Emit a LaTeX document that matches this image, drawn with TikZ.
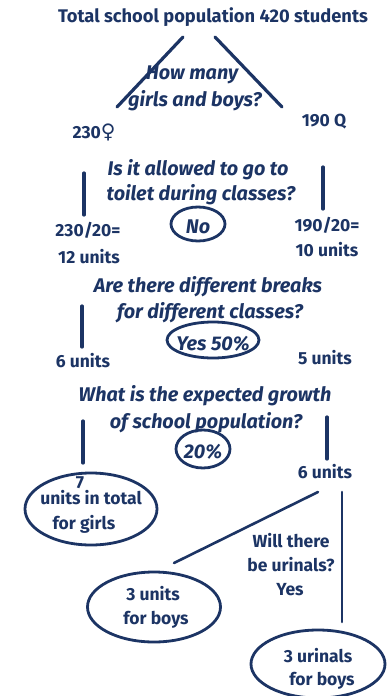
\documentclass[tikz,border=0pt]{standalone}
\usepackage{fontspec}
\setmainfont{Fira Sans}
\newfontfamily\symfont{DejaVu Sans}
\usetikzlibrary{shapes.geometric}
\definecolor{ink}{RGB}{28,52,100}
\tikzset{
  lbl/.style={text=ink, font=\fontsize{17.5}{19}\selectfont\bfseries, inner sep=0pt, anchor=center},
  ttl/.style={lbl, font=\fontsize{18.3}{20}\selectfont\bfseries},
  qst/.style={text=ink, font=\fontsize{19.8}{21}\selectfont\bfseries\itshape, inner sep=0pt, anchor=center},
  stroke/.style={draw=ink, line width=3.2pt, line cap=round},
  oval/.style={draw=ink, line width=2.8pt, ellipse, inner sep=0pt}
}
\begin{document}
\begin{tikzpicture}[x=1pt,y=-1pt]
\useasboundingbox (0,0) rectangle (388,696);
% title
\node[ttl] (title) at (213,17) {Total school population 420 students};
\coordinate (l1a) at (183,37); \coordinate (l1b) at (117,107);
\coordinate (r1a) at (215,37); \coordinate (r1b) at (282,107);
\draw[stroke] (l1a) -- (l1b);
\draw[stroke] (r1a) -- (r1b);
\node[qst] (q1a) at (192,75) {How many};
\node[qst] (q1b) at (195,101) {girls and boys?};
\node[lbl] (girls) at (94,132) {230{\symfont\fontsize{20}{20}\selectfont ♀}};
\node[lbl] (boys) at (324,122) {190 Q};
% level 2
\coordinate (l2a) at (84,173); \coordinate (l2b) at (84,215);
\coordinate (r2a) at (323,167); \coordinate (r2b) at (323,209);
\draw[stroke] (l2a) -- (l2b);
\draw[stroke] (r2a) -- (r2b);
\node[qst] (q2a) at (198,170) {Is it allowed to go to};
\node[qst] (q2b) at (201,195) {toilet during classes?};
\node[oval, minimum width=54, minimum height=34] (no) at (198,224) {};
\node[qst] at ([yshift=-3]no.center) {No};
\node[lbl] (g2a) at (88,230) {230/20=};
\node[lbl] (g2b) at (89,257) {12 units};
\node[lbl] (b2a) at (327,225) {190/20=};
\node[lbl] (b2b) at (327,250) {10 units};
% level 3
\node[qst] (q3a) at (208,287) {Are there different breaks};
\node[qst] (q3b) at (210,313) {for different classes?};
\coordinate (l3a) at (82,306); \coordinate (l3b) at (82,347);
\draw[stroke] (l3a) -- (l3b);
\node[oval, minimum width=92, minimum height=36] (yes) at (213,340) {};
\node[qst] at ([yshift=-4]yes.center) {Yes 50\%};
\node[lbl] (g3) at (83,361) {6 units};
\node[lbl] (b3) at (325,358) {5 units};
% level 4
\node[qst] (q4a) at (205,396) {What is the expected growth};
\node[qst] (q4b) at (206,423) {of school population?};
\coordinate (l4a) at (83,421); \coordinate (l4b) at (83,463);
\coordinate (r4a) at (327,417); \coordinate (r4b) at (327,459);
\draw[stroke] (l4a) -- (l4b);
\draw[stroke] (r4a) -- (r4b);
\node[oval, minimum width=54, minimum height=38] (growth) at (203,449) {};
\node[qst] at ([yshift=-3]growth.center) {20\%};
\node[lbl] (b4) at (325,472) {6 units};
% girls total
\node[oval, minimum width=132, minimum height=72] (girlsTotal) at (91,509) {};
\node[lbl] at (80,483) {7};
\node[lbl] at (91,498) {units in total};
\node[lbl] at (84,524) {for girls};
% boys branch
\coordinate (d1) at (318,492); \coordinate (d2) at (174,563);
\draw[stroke, line width=2.6pt] (d1) -- (d2);
\coordinate (v1) at (342,492); \coordinate (v2) at (342,622);
\draw[stroke, line width=2.6pt] (v1) -- (v2);
\node[lbl] (q5a) at (291,541) {Will there};
\node[lbl] (q5b) at (291,565) {be urinals?};
\node[lbl] (q5c) at (290,590) {Yes};
\node[oval, minimum width=133, minimum height=70] (boysUnits) at (154,607) {};
\node[lbl] at (153,594) {3 units};
\node[lbl] at (156,620) {for boys};
\node[oval, minimum width=134, minimum height=68] (urinals) at (318,664) {};
\node[lbl] at (318,656) {3 urinals};
\node[lbl] at (322,681) {for boys};
\end{tikzpicture}
\end{document}
